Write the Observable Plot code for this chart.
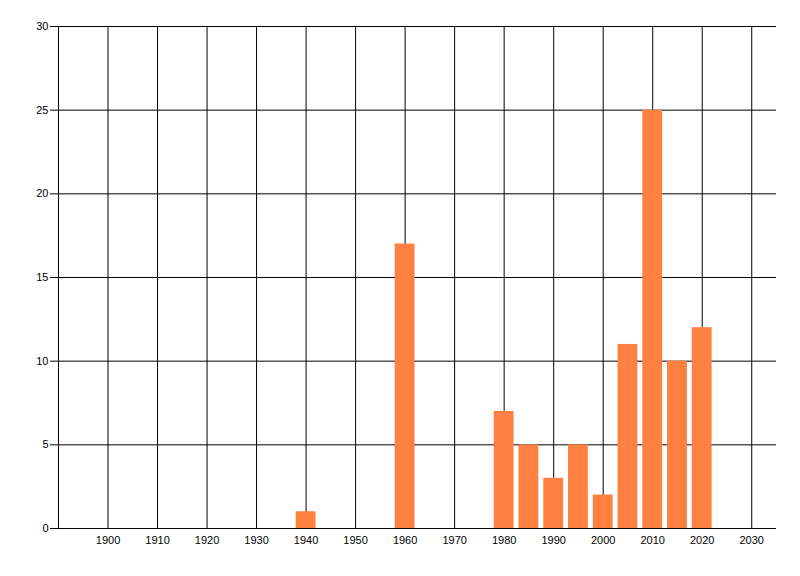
<!DOCTYPE html>
<html>
<head>
<meta charset="utf-8">
<script src="https://cdn.jsdelivr.net/npm/d3@7"></script>
<script src="https://cdn.jsdelivr.net/npm/@observablehq/plot@0.6"></script>
<style>
  body { margin: 0; background: #fff; }
  #chart svg { display: block; }
</style>
</head>
<body>
<div id="chart"></div>
<script>
// datos
const years = [1940, 1960, 1980, 1985, 1990, 1995, 2000, 2005, 2010, 2015, 2020];
const counts = [1, 17, 7, 5, 3, 5, 2, 11, 25, 10, 12];
const xTicks = d3.range(1900, 2031, 10);
const yTicks = [0, 5, 10, 15, 20, 25, 30];

const bars = years.map((y, i) => ({year: y, count: counts[i]}));

const chart = Plot.plot({
  width: 800,
  height: 576,
  marginLeft: 58,
  marginTop: 26,
  marginRight: 24,
  marginBottom: 48,
  style: {fontFamily: "'Liberation Sans', Arial, sans-serif", fontSize: "11px", color: "#000", background: "#fff"},
  x: {domain: [1890, 2035], label: null},
  y: {domain: [0, 30], label: null},
  marks: [
    Plot.ruleX(xTicks, {stroke: "#000", strokeWidth: 1}),
    Plot.ruleY(yTicks.filter(d => d > 0), {stroke: "#000", strokeWidth: 1}),
    Plot.rectY(bars, {x1: d => d.year - 2, x2: d => d.year + 2, y: "count", fill: "#ff8040"}),
    Plot.ruleX([1890], {stroke: "#000", strokeWidth: 1}),
    Plot.ruleY([0], {stroke: "#000", strokeWidth: 1}),
    Plot.axisX({ticks: xTicks, tickSize: 0, tickPadding: 8, tickFormat: d => String(d), fill: "#000"}),
    Plot.axisY({ticks: yTicks, tickSize: 8, tickPadding: 2, stroke: "#000", fill: "#000"})
  ]
});

d3.select('#chart').append(() => chart);
</script>
</body>
</html>
